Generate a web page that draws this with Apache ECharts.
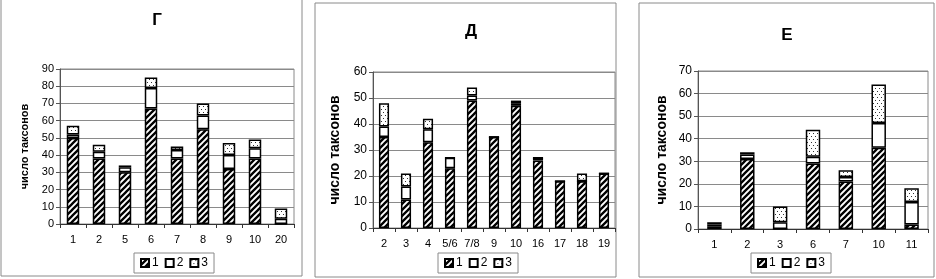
<!DOCTYPE html>
<html>
<head>
<meta charset="utf-8">
<script src="https://cdn.jsdelivr.net/npm/echarts@6/dist/echarts.min.js"></script>
<style>
  html, body { margin: 0; padding: 0; background: #fff; }
  #chart { width: 936px; height: 279px; }
</style>
</head>
<body>
<div id="chart"></div>
<script>
// panel titles
const titles = ["Г", "Д", "Е"]
const yTitle = "число таксонов"
const seriesNames = ["1", "2", "3"]

// panel Г
const catsG = ["1", "2", "5", "6", "7", "8", "9", "10", "20"]
const g1 = [50, 38, 30, 67, 38, 55, 32, 38, 0]
const g2 = [2, 4, 3, 12, 5, 8, 8, 6, 3]
const g3 = [5, 4, 1, 6, 2, 7, 7, 5, 6]

// panel Д
const catsD = ["2", "3", "4", "5/6", "7/8", "9", "10", "16", "17", "18", "19"]
const d1 = [35, 11, 33, 23, 49, 35, 47, 26, 18, 18, 21]
const d2 = [4, 5, 5, 4, 2, 0, 1, 1, 0, 0, 0]
const d3 = [9, 5, 4, 0, 3, 0, 1, 0, 0, 3, 0]

// panel Е
const catsE = ["1", "2", "3", "6", "7", "10", "11"]
const e1 = [1, 31, 0, 29, 21, 36, 2]
const e2 = [1, 2, 3, 3, 2, 11, 10]
const e3 = [1, 1, 7, 12, 3, 17, 6]

const yMax = [90, 60, 70]

// fill patterns: hatch for 1, plain for 2, dots for 3
function hatchPattern() {
  const s = 6
  const c = document.createElement("canvas")
  c.width = s
  c.height = s
  const ctx = c.getContext("2d")
  ctx.fillStyle = "#fff"
  ctx.fillRect(0, 0, s, s)
  ctx.strokeStyle = "#000"
  ctx.lineWidth = 2.3
  ctx.beginPath()
  ctx.moveTo(-1, s + 1); ctx.lineTo(s + 1, -1)
  ctx.moveTo(-1, 1); ctx.lineTo(1, -1)
  ctx.moveTo(s - 1, s + 1); ctx.lineTo(s + 1, s - 1)
  ctx.stroke()
  return c
}

function dotPattern() {
  const c = document.createElement("canvas")
  c.width = 4
  c.height = 6
  const ctx = c.getContext("2d")
  ctx.fillStyle = "#fff"
  ctx.fillRect(0, 0, 4, 6)
  ctx.fillStyle = "#333"
  ctx.fillRect(1, 1, 1, 1)
  ctx.fillRect(3, 4, 1, 1)
  return c
}

const fills = [
  { image: hatchPattern(), repeat: "repeat" },
  "#fff",
  { image: dotPattern(), repeat: "repeat" },
]

const font = "Arial, 'Liberation Sans', sans-serif"

// pixel layout of the three panels
const panels = [
  { cats: catsG, data: [g1, g2, g3], grid: { left: 60, right: 642, top: 69, bottom: 55 },
    frame: { x: 1, y: -2, width: 301, height: 278 }, titleX: 152, titleY: 7,
    nameSize: 11, nameGap: 30, labelSize: 11, barWidth: "48%", legendLeft: 134 },
  { cats: catsD, data: [d1, d2, d3], grid: { left: 373, right: 321, top: 72, bottom: 51 },
    frame: { x: 315, y: 3, width: 301, height: 274 }, titleX: 466, titleY: 18,
    nameSize: 14, nameGap: 31, labelSize: 12, barWidth: "46%", legendLeft: 438 },
  { cats: catsE, data: [e1, e2, e3], grid: { left: 698, right: 8, top: 71, bottom: 50 },
    frame: { x: 639, y: 3, width: 295, height: 274 }, titleX: 782, titleY: 22,
    nameSize: 14, nameGap: 29, labelSize: 12, barWidth: "44%", legendLeft: 751 },
]

const chart = echarts.init(document.getElementById("chart"))

const option = {
  animation: false,
  backgroundColor: "#fff",
  textStyle: { fontFamily: font },
  graphic: panels.map((p) => ({
    type: "rect",
    shape: p.frame,
    style: { fill: null, stroke: "#8a8a8a", lineWidth: 1 },
    z: -1,
  })),
  title: panels.map((p, i) => ({
    text: titles[i],
    left: p.titleX,
    top: p.titleY,
    textAlign: "center",
    textStyle: { fontSize: 17, fontWeight: "bold", color: "#000", fontFamily: font },
  })),
  legend: panels.map((p) => ({
    data: seriesNames,
    left: p.legendLeft,
    top: 253,
    orient: "horizontal",
    backgroundColor: "#fff",
    borderColor: "#8a8a8a",
    borderWidth: 1,
    borderRadius: 0,
    padding: [4, 6],
    itemGap: 6,
    itemWidth: 8,
    itemHeight: 8,
    icon: "rect",
    textStyle: { fontSize: 12, color: "#000", fontFamily: font, padding: [0, 0, 0, -2] },
  })),
  grid: panels.map((p) => ({
    ...p.grid,
    show: true,
    borderColor: "#8a8a8a",
    borderWidth: 1,
    backgroundColor: "#fff",
  })),
  xAxis: panels.map((p, i) => ({
    type: "category",
    gridIndex: i,
    data: p.cats,
    axisLine: { lineStyle: { color: "#333", width: 1 } },
    axisTick: { show: true, length: 4, lineStyle: { color: "#333" } },
    axisLabel: { fontSize: 11, color: "#000", margin: 10, fontFamily: font },
  })),
  yAxis: panels.map((p, i) => ({
    type: "value",
    gridIndex: i,
    min: 0,
    max: yMax[i],
    interval: 10,
    name: yTitle,
    nameLocation: "middle",
    nameRotate: 90,
    nameGap: p.nameGap,
    nameTextStyle: { fontSize: p.nameSize, fontWeight: "bold", color: "#000", fontFamily: font },
    axisLine: { show: true, lineStyle: { color: "#555", width: 1 } },
    axisTick: { show: true, length: 4, lineStyle: { color: "#555" } },
    axisLabel: { fontSize: p.labelSize, color: "#000", margin: 6, fontFamily: font },
    splitLine: { show: true, lineStyle: { color: "#8a8a8a", width: 1 } },
  })),
  series: panels.flatMap((p, i) =>
    seriesNames.map((name, k) => ({
      name: name,
      type: "bar",
      stack: "panel" + i,
      xAxisIndex: i,
      yAxisIndex: i,
      barWidth: p.barWidth,
      data: p.data[k],
      itemStyle: { color: fills[k], borderColor: "#000", borderWidth: 1.5 },
    }))
  ),
}

chart.setOption(option)
</script>
</body>
</html>
